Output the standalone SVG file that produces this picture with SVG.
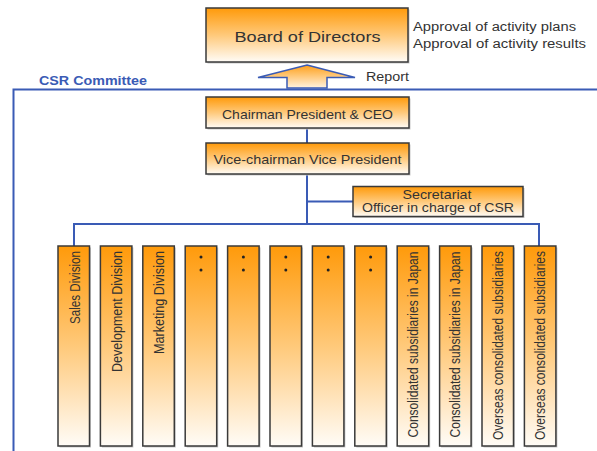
<svg xmlns="http://www.w3.org/2000/svg" width="597" height="451" viewBox="0 0 597 451">
<defs>
<linearGradient id="og" x1="0" y1="0" x2="0" y2="1">
<stop offset="0" stop-color="#FF9A0A"/>
<stop offset="0.5" stop-color="#FFC97A"/>
<stop offset="1" stop-color="#FFFCF7"/>
</linearGradient>
<linearGradient id="ag" x1="0" y1="0" x2="0" y2="1">
<stop offset="0" stop-color="#FFA01A"/>
<stop offset="1" stop-color="#FFF3E0"/>
</linearGradient>
<style>
.box{fill:url(#og);stroke:#3a3a3a;stroke-width:1.5}
.sh{fill:#c8c8c8}
.t{font-family:"Liberation Sans",Arial,sans-serif;fill:#333;font-size:13px}
.c{text-anchor:middle}
.v{text-anchor:end;font-size:14px}
.ln{fill:none;stroke:#3A5BB5;stroke-width:2}
</style>
</defs>
<g id="connectors">
<polyline class="ln" points="13.5,451 13.5,89.5 597,89.5"/>
<line class="ln" x1="307" y1="128" x2="307" y2="143"/>
<line class="ln" x1="307" y1="174" x2="307" y2="224"/>
<line class="ln" x1="307" y1="201.5" x2="353" y2="201.5"/>
<polyline class="ln" points="74,246 74,224 539,224 539,246"/>
<polygon id="report-arrow" points="307,65 355,77.5 327,77.5 327,88 287,88 287,77.5 258,77.5" fill="url(#ag)" stroke="#3A5BB5" stroke-width="1.5"/>
</g>
<g id="board">
<rect class="sh" x="207.5" y="9.5" width="202" height="54"/>
<rect class="box" x="206" y="8" width="202" height="54"/>
<text class="t c" x="307.5" y="42" textLength="146" lengthAdjust="spacingAndGlyphs" style="font-size:15.5px">Board of Directors</text>
</g>
<g id="approval">
<text class="t" x="413" y="31" style="font-size:12px" textLength="163" lengthAdjust="spacingAndGlyphs">Approval of activity plans</text>
<text class="t" x="413" y="48" style="font-size:12px" textLength="173" lengthAdjust="spacingAndGlyphs">Approval of activity results</text>
</g>
<text id="report" class="t" x="366" y="81" style="font-size:12px" textLength="43" lengthAdjust="spacingAndGlyphs">Report</text>
<text id="csr" x="39" y="85" font-family="Liberation Sans, Arial, sans-serif" font-weight="bold" font-size="12.5" fill="#3A5BB5" textLength="108" lengthAdjust="spacingAndGlyphs">CSR Committee</text>
<g id="chairman">
<rect class="sh" x="207.5" y="98.5" width="203" height="31"/>
<rect class="box" x="206" y="97" width="203" height="31"/>
<text class="t c" x="307.5" y="118.5" textLength="171" lengthAdjust="spacingAndGlyphs">Chairman President &amp; CEO</text>
</g>
<g id="vice">
<rect class="sh" x="207.5" y="144.5" width="203" height="31"/>
<rect class="box" x="206" y="143" width="203" height="31"/>
<text class="t c" x="307.5" y="164" textLength="188" lengthAdjust="spacingAndGlyphs">Vice-chairman Vice President</text>
</g>
<g id="secretariat">
<rect class="sh" x="354.5" y="188" width="170" height="30"/>
<rect class="box" x="353" y="186.5" width="170" height="30"/>
<text class="t c" x="437" y="198.5" textLength="69" lengthAdjust="spacingAndGlyphs">Secretariat</text>
<text class="t c" x="438" y="212" textLength="152" lengthAdjust="spacingAndGlyphs">Officer in charge of CSR</text>
</g>
<g id="col1"><rect class="sh" x="59.5" y="247.5" width="31.5" height="200"/><rect class="box" x="58" y="246" width="31.5" height="200"/>
<text class="t v" transform="translate(79.5,251) rotate(-90)" textLength="73" lengthAdjust="spacingAndGlyphs">Sales Division</text></g>
<g id="col2"><rect class="sh" x="101.9" y="247.5" width="31.5" height="200"/><rect class="box" x="100.4" y="246" width="31.5" height="200"/>
<text class="t v" transform="translate(121.9,251) rotate(-90)" textLength="121" lengthAdjust="spacingAndGlyphs">Development Division</text></g>
<g id="col3"><rect class="sh" x="144.3" y="247.5" width="31.5" height="200"/><rect class="box" x="142.8" y="246" width="31.5" height="200"/>
<text class="t v" transform="translate(164.3,251) rotate(-90)" textLength="103" lengthAdjust="spacingAndGlyphs">Marketing Division</text></g>
<g id="col4"><rect class="sh" x="186.7" y="247.5" width="31.5" height="200"/><rect class="box" x="185.2" y="246" width="31.5" height="200"/>
<circle cx="201" cy="257" r="1.5" fill="#222"/><circle cx="201" cy="270" r="1.5" fill="#222"/></g>
<g id="col5"><rect class="sh" x="229.1" y="247.5" width="31.5" height="200"/><rect class="box" x="227.6" y="246" width="31.5" height="200"/>
<circle cx="243.4" cy="257" r="1.5" fill="#222"/><circle cx="243.4" cy="270" r="1.5" fill="#222"/></g>
<g id="col6"><rect class="sh" x="271.5" y="247.5" width="31.5" height="200"/><rect class="box" x="270" y="246" width="31.5" height="200"/>
<circle cx="285.8" cy="257" r="1.5" fill="#222"/><circle cx="285.8" cy="270" r="1.5" fill="#222"/></g>
<g id="col7"><rect class="sh" x="313.9" y="247.5" width="31.5" height="200"/><rect class="box" x="312.4" y="246" width="31.5" height="200"/>
<circle cx="328.2" cy="257" r="1.5" fill="#222"/><circle cx="328.2" cy="270" r="1.5" fill="#222"/></g>
<g id="col8"><rect class="sh" x="356.3" y="247.5" width="31.5" height="200"/><rect class="box" x="354.8" y="246" width="31.5" height="200"/>
<circle cx="370.6" cy="257" r="1.5" fill="#222"/><circle cx="370.6" cy="270" r="1.5" fill="#222"/></g>
<g id="col9"><rect class="sh" x="398.7" y="247.5" width="31.5" height="200"/><rect class="box" x="397.2" y="246" width="31.5" height="200"/>
<text class="t v" transform="translate(418,251.5) rotate(-90)" textLength="186" lengthAdjust="spacingAndGlyphs">Consolidated subsidiaries in Japan</text></g>
<g id="col10"><rect class="sh" x="441.1" y="247.5" width="31.5" height="200"/><rect class="box" x="439.6" y="246" width="31.5" height="200"/>
<text class="t v" transform="translate(460.4,251.5) rotate(-90)" textLength="186" lengthAdjust="spacingAndGlyphs">Consolidated subsidiaries in Japan</text></g>
<g id="col11"><rect class="sh" x="483.5" y="247.5" width="31.5" height="200"/><rect class="box" x="482" y="246" width="31.5" height="200"/>
<text class="t v" transform="translate(502.8,251) rotate(-90)" textLength="189" lengthAdjust="spacingAndGlyphs">Overseas consolidated subsidiaries</text></g>
<g id="col12"><rect class="sh" x="525.9" y="247.5" width="31.5" height="200"/><rect class="box" x="524.4" y="246" width="31.5" height="200"/>
<text class="t v" transform="translate(545.2,251) rotate(-90)" textLength="189" lengthAdjust="spacingAndGlyphs">Overseas consolidated subsidiaries</text></g>
</svg>
